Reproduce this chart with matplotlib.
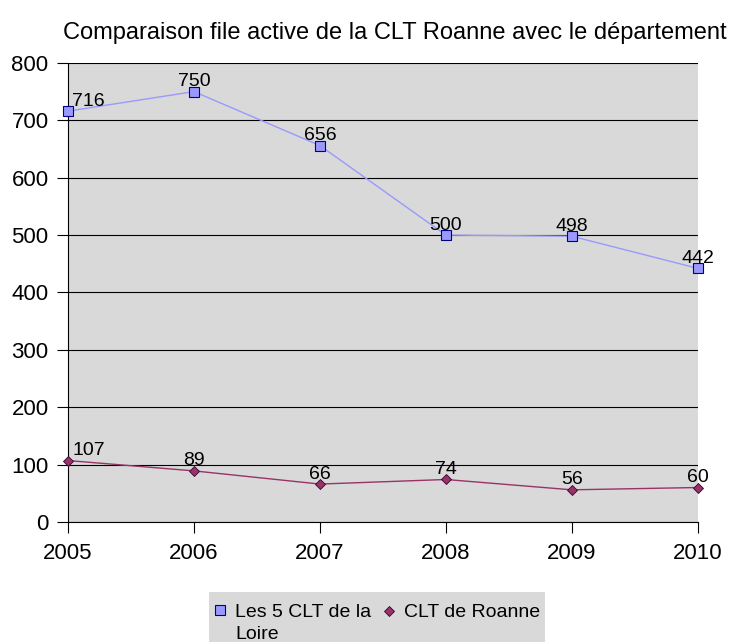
import matplotlib.pyplot as plt
from matplotlib.lines import Line2D
from matplotlib.patches import Rectangle

plt.rcParams['font.family'] = ['Liberation Sans', 'DejaVu Sans']

years = [2005, 2006, 2007, 2008, 2009, 2010]
loire = [716, 750, 656, 500, 498, 442]
roanne = [107, 89, 66, 74, 56, 60]

W, H = 733, 642
fig = plt.figure(figsize=(W / 100, H / 100), dpi=100)
ax = fig.add_axes([0.0928, 0.187, 0.859, 0.715])
ax.set_facecolor('#d9d9d9')

loire_style = dict(color='#9999ff', marker='s', ms=7, mfc='#9999ff',
                   mec='#000080', mew=0.8)
roanne_style = dict(color='#993366', marker='D', ms=5, mfc='#993366',
                    mec='#330033', mew=0.6)

ax.plot(years, loire, lw=1, clip_on=False, zorder=3, **loire_style)
ax.plot(years, roanne, lw=1, clip_on=False, zorder=3, **roanne_style)

for series in (loire, roanne):
    for i, (x, y) in enumerate(zip(years, series)):
        if i == 0:
            ax.annotate(str(y), (x, y), xytext=(3, 1), textcoords='offset points',
                        ha='left', va='bottom', fontsize=14, zorder=4)
        else:
            ax.annotate(str(y), (x, y), xytext=(0, 1), textcoords='offset points',
                        ha='center', va='bottom', fontsize=14, zorder=4)

ax.set_xlim(2005, 2010)
ax.set_ylim(0, 800)
ax.set_xticks(years)
ax.set_yticks(range(0, 801, 100))
ax.grid(axis='y', color='black', lw=0.8)
ax.set_axisbelow(True)
for s in ('top', 'right'):
    ax.spines[s].set_visible(False)
ax.spines['left'].set_color('black')
ax.spines['bottom'].set_color('black')
ax.tick_params(axis='both', labelsize=16, length=8, width=0.8, color='black')
ax.tick_params(axis='x', pad=7)
ax.tick_params(axis='y', pad=6)

fig.text(0.539, 0.948, 'Comparaison file active de la CLT Roanne avec le département',
         ha='center', va='center', fontsize=17)

# legend drawn by hand so the wrapped label keeps its marker on the first line
def fx(px):
    return px / W

def fy(py):
    return 1 - py / H

fig.add_artist(Rectangle((fx(209), fy(642)), fx(545) - fx(209), fy(592) - fy(642),
                         transform=fig.transFigure, facecolor='#d9d9d9',
                         edgecolor='none', zorder=1))
fig.add_artist(Line2D([fx(220)], [fy(610)], transform=fig.transFigure,
                      ls='none', zorder=2, **loire_style))
fig.add_artist(Line2D([fx(389)], [fy(611)], transform=fig.transFigure,
                      ls='none', zorder=2, **roanne_style))
fig.text(fx(235), fy(617), 'Les 5 CLT de la', fontsize=14, va='baseline', zorder=3)
fig.text(fx(235), fy(639), 'Loire', fontsize=14, va='baseline', zorder=3)
fig.text(fx(404), fy(617), 'CLT de Roanne', fontsize=14, va='baseline', zorder=3)

fig.savefig('out.png', dpi=100)
